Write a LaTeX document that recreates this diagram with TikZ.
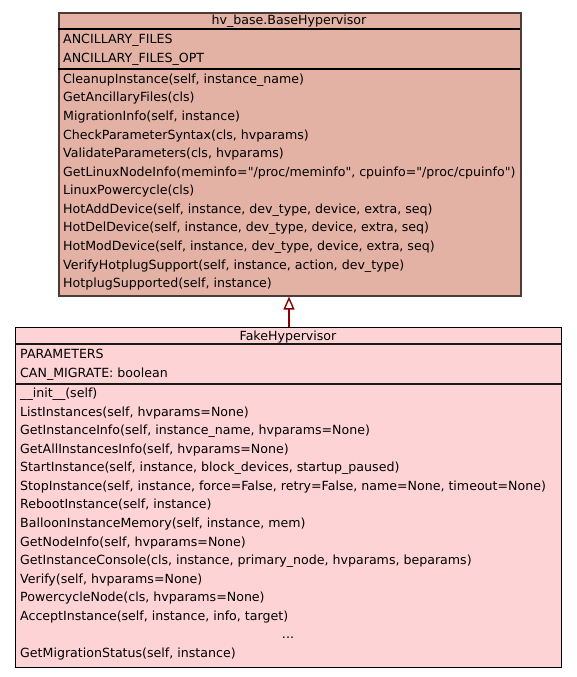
\documentclass[tikz,border=0pt]{standalone}
\usepackage{fontspec}
\setmainfont{DejaVu Sans}[Ligatures=TeXOff]
\usetikzlibrary{arrows.meta}
\definecolor{topfill}{RGB}{227,178,165}
\definecolor{topline}{RGB}{77,59,54}
\definecolor{botfill}{RGB}{253,211,214}
\definecolor{arrowred}{RGB}{139,0,0}
\tikzset{
  txt/.style={anchor=base west, inner sep=0pt, font=\fontsize{12.6}{15}\selectfont, text=black},
  ttl/.style={anchor=base, inner sep=0pt, font=\fontsize{12.6}{15}\selectfont, text=black},
  topbox/.style={draw=topline, fill=topfill, line width=1.6pt},
  botbox/.style={draw=black, fill=botfill, line width=1.2pt},
  divtop/.style={draw=black, line width=1.4pt},
  divbot/.style={draw=black!90, line width=1.4pt},
  inherit/.style={draw=arrowred, line width=2.6pt, -{Triangle[open, length=13pt, width=11pt, line width=1.4pt]}}
}
\begin{document}
\begin{tikzpicture}[x=1pt, y=-1pt]
\useasboundingbox (0,0) rectangle (576,677);
\fill[white] (0,0) rectangle (576,677);
% top box
\node[topbox, minimum width=462pt, minimum height=283pt, anchor=north west, inner sep=0pt] (base) at (58,12) {};
\draw[divtop] (58,29) -- (520,29);
\draw[divtop] (58,69) -- (520,69);
\node[ttl] (basettl) at (289,24.3) {hv\_base.BaseHypervisor};
\node[txt] (ba1) at (63,43.3) {ANCILLARY\_FILES};
\node[txt] (ba2) at (63,62.1) {ANCILLARY\_FILES\_OPT};
\foreach \t [count=\i from 0] in {
  {CleanupInstance(self, instance\_name)},
  {GetAncillaryFiles(cls)},
  {MigrationInfo(self, instance)},
  {CheckParameterSyntax(cls, hvparams)},
  {ValidateParameters(cls, hvparams)},
  {GetLinuxNodeInfo(meminfo="/proc/meminfo", cpuinfo="/proc/cpuinfo")},
  {LinuxPowercycle(cls)},
  {HotAddDevice(self, instance, dev\_type, device, extra, seq)},
  {HotDelDevice(self, instance, dev\_type, device, extra, seq)},
  {HotModDevice(self, instance, dev\_type, device, extra, seq)},
  {VerifyHotplugSupport(self, instance, action, dev\_type)},
  {HotplugSupported(self, instance)}}
  \node[txt] (bm\i) at (63,{83.3+\i*18.58}) {\t};
% bottom box
\node[botbox, minimum width=546pt, minimum height=340pt, anchor=north west, inner sep=0pt] (fake) at (15,327) {};
\draw[divbot] (15,344) -- (561,344);
\draw[divbot] (15,384) -- (561,384);
\node[ttl] (fakettl) at (288,340.5) {FakeHypervisor};
\node[txt] (fa1) at (20,358.7) {PARAMETERS};
\node[txt] (fa2) at (20,377.3) {CAN\_MIGRATE: boolean};
\foreach \t [count=\i from 0] in {
  {\_\_init\_\_(self)},
  {ListInstances(self, hvparams=None)},
  {GetInstanceInfo(self, instance\_name, hvparams=None)},
  {GetAllInstancesInfo(self, hvparams=None)},
  {StartInstance(self, instance, block\_devices, startup\_paused)},
  {StopInstance(self, instance, force=False, retry=False, name=None, timeout=None)},
  {RebootInstance(self, instance)},
  {BalloonInstanceMemory(self, instance, mem)},
  {GetNodeInfo(self, hvparams=None)},
  {GetInstanceConsole(cls, instance, primary\_node, hvparams, beparams)},
  {Verify(self, hvparams=None)},
  {PowercycleNode(cls, hvparams=None)},
  {AcceptInstance(self, instance, info, target)}}
  \node[txt] (fm\i) at (20,{397.6+\i*18.55}) {\t};
\node[ttl] (fdots) at (288,638.8) {...};
\node[txt] (fmlast) at (20,657.3) {GetMigrationStatus(self, instance)};
% inheritance
\draw[inherit] (fake.north -| basettl) -- (base.south -| basettl);
\end{tikzpicture}
\end{document}
